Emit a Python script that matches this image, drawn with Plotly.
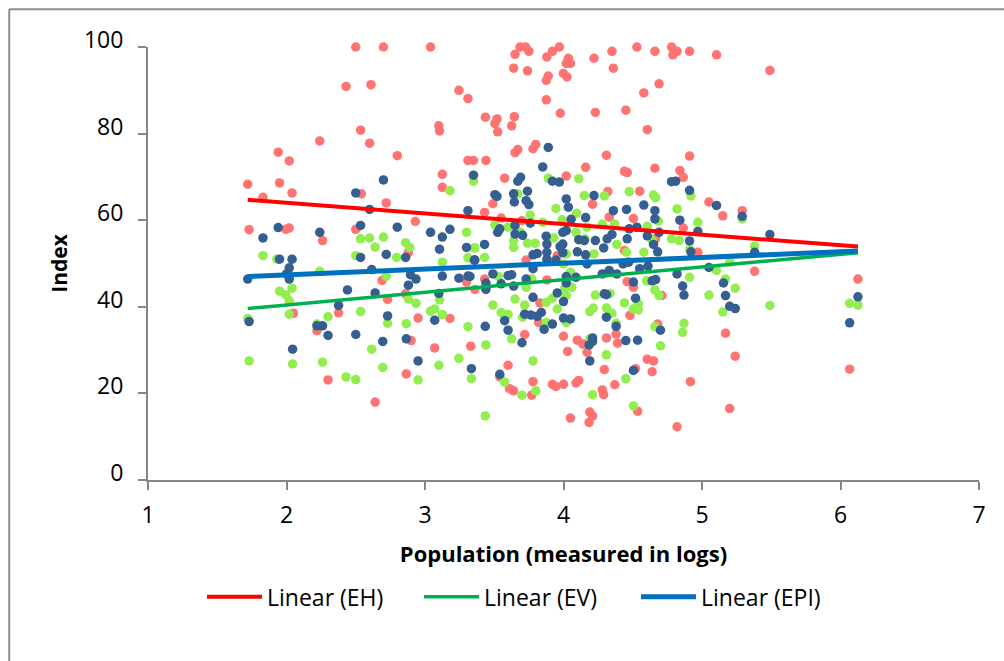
import plotly.graph_objects as go

eh_pts = [
(2.50,100),(2.70,100),(3.04,100),(2.43,90.9),(2.61,91.3),(3.245,90),(3.31,88.1),(2.535,80.8),(2.60,77.8),(2.24,78.3),
(1.94,75.7),(2.02,73.7),(2.80,74.9),(3.10,81.8),(3.105,80.6),(3.31,73.8),(3.35,73.8),(3.125,70.6),(3.125,67.6),(1.72,68.3),
(1.95,68.6),(1.83,65.3),(2.04,66.3),(2.54,66.1),(2.72,64),(2.93,59.7),(1.73,57.8),(1.995,57.9),(2.02,58.2),(2.26,55.3),
(2.50,57.9),(2.88,52.5),(3.686,100),(3.727,100),(3.65,98.3),(3.75,99),(3.92,99),(3.97,100),(3.88,97.7),(4.035,97.4),
(4.02,96.2),(4.05,96.2),(4.22,97.4),(4.35,99),(4.53,100),(4.66,99),(4.78,100),(4.82,99),(4.79,98.2),(4.91,99),
(5.105,98.2),(5.49,94.6),(3.64,95.1),(3.74,94.5),(3.89,93.3),(3.876,92.3),(3.999,93.9),(4.025,93.1),(4.36,95.1),(4.69,91.5),
(4.58,89.4),(3.876,87.8),(3.977,84.7),(4.23,84.9),(4.45,85.4),(4.605,80.9),(3.436,83.8),(3.52,83.4),(3.505,82.3),(3.645,83.9),
(3.626,81.8),(3.525,80.4),(3.67,76.3),(3.65,75.6),(3.80,77.5),(3.78,76.5),(3.44,73.8),(4.31,75),(4.91,74.8),(4.16,72.2),
(4.44,71.3),(4.46,71),(4.66,72),(4.84,71.5),(4.865,69.9),(3.575,69.7),(4.02,70.2),(4.32,66.6),(4.55,66.7),(4.21,63.7),
(3.49,63.8),(5.05,64.2),(5.15,61),(5.29,62.2),(3.43,61.8),(3.55,60.5),(3.70,59.9),(4.33,60.7),(4.505,60.4),(4.865,58.2),
(4.665,55.7),(4.97,52.6),(4.44,53),(3.73,50.8),(3.955,51.8),(2.69,46.1),(2.05,38.5),(2.376,38.6),(2.22,34.5),(2.86,43),
(2.73,41.7),(2.95,37.4),(3.18,37.3),(2.90,32.2),(3.07,30.5),(3.33,30.9),(2.865,24.5),(2.30,23.1),(2.64,18),(3.30,45.7),
(3.36,44),(3.43,46.4),(3.88,46.2),(3.83,40.9),(3.82,36.4),(3.72,33.6),(4.0,33.2),(4.10,32.3),(4.14,31.4),(4.03,29.7),
(4.17,29.5),(4.31,32.8),(4.38,33.7),(4.39,31.6),(4.46,45.8),(4.505,44.5),(4.48,38),(4.68,36),(4.71,42.6),(4.605,27.9),
(4.65,27.5),(4.64,25),(4.52,25.7),(4.295,25.5),(4.37,22),(3.60,26.5),(3.54,23.8),(3.78,22.7),(3.61,21.1),(3.64,20.6),
(3.77,19.6),(3.92,22.1),(3.945,21.6),(4.0,22.1),(4.09,22.4),(4.11,23),(4.28,20.8),(4.29,19.7),(4.916,22.7),(5.17,33.9),
(5.24,28.6),(5.20,16.5),(5.38,48.2),(6.126,46.4),(6.066,25.6),(4.82,12.3),(4.535,15.9),(4.19,15.7),(4.21,14.8),(4.185,13.3),
(4.05,14.3),
]
ev_pts = [
(3.18,66.8),(3.35,69),(2.535,55.7),(2.60,55.9),(2.70,56.1),(2.64,53.8),(1.83,51.8),(2.50,51.8),(2.86,54.8),(2.89,53.7),
(2.795,51.4),(3.30,57.2),(3.36,53.6),(3.31,51.3),(3.125,50.3),(1.93,51),(3.89,69.7),(4.11,69.6),(3.67,66.1),(4.15,65.7),
(4.295,65.6),(4.475,66.6),(4.65,65.8),(4.665,65.2),(4.92,65.6),(3.945,62.7),(4.82,62.6),(4.095,61.6),(3.76,61.2),(3.99,60.1),
(4.685,59.8),(4.97,59.5),(3.85,59.5),(3.505,58.9),(3.60,58.4),(4.17,58.4),(4.28,59.1),(4.37,59.1),(4.605,58.6),(5.29,60.3),
(5.38,54),(4.09,57.2),(3.69,57.2),(3.64,55.3),(3.64,53.7),(3.74,54.7),(3.795,54.7),(3.93,55.9),(4.155,55.7),(4.78,55.7),
(4.835,55.3),(4.64,55.3),(4.91,53.2),(4.385,54.4),(4.455,52.6),(4.22,52.2),(4.58,52.6),(3.356,53.6),(3.43,51.4),(4.02,52.2),
(2.24,48.2),(2.72,47.1),(1.95,43.6),(2.04,44.3),(1.995,42.8),(2.02,41.4),(2.02,38.3),(1.72,37.3),(2.30,37.7),(2.22,36),
(2.535,38.9),(2.73,36.2),(2.865,36.1),(2.88,41.8),(2.935,40.8),(3.105,41.6),(3.04,39),(3.07,39.5),(3.125,38.2),(3.31,35.4),
(2.615,30.2),(2.695,26),(2.26,27.2),(2.044,26.8),(1.73,27.5),(2.43,23.8),(2.50,23.2),(2.95,23.1),(3.10,26.5),(3.245,28.1),
(3.335,23.4),(3.44,31.2),(3.49,40.4),(3.55,38.7),(3.60,38.2),(3.65,41.8),(3.72,40.4),(3.705,37.6),(3.625,32.6),(3.53,47),
(3.78,27.5),(3.575,22.6),(3.70,19.6),(3.80,20.6),(3.435,14.8),(3.875,41),(3.92,42),(3.955,39.5),(4.01,44.4),(4.02,42.6),
(4.06,44.5),(3.73,44.5),(3.875,36.4),(4.02,36.4),(4.23,42.7),(4.335,43.1),(4.44,40.9),(4.19,38.9),(4.215,39.7),(4.31,39.7),
(4.35,38.5),(4.54,40.7),(4.505,39.5),(4.54,39.3),(4.38,36.2),(4.66,43.9),(4.69,42.6),(4.6,46),(4.66,35.4),(4.87,36.2),
(4.86,34.1),(4.70,31),(4.31,28.9),(4.19,32.6),(4.45,23.4),(4.21,19.7),(4.505,17.1),(5.05,42.7),(5.15,38.8),(5.24,44.3),
(5.17,46.4),(5.49,40.3),(4.91,46.8),(5.105,48.4),(5.20,50.3),(6.066,40.8),(6.126,40.4),(4.0,49.9),(4.47,50.3),(3.77,46.4),
(4.05,48),
]
epi_pts = [
(2.70,69.3),(2.50,66.3),(3.35,70.4),(2.60,62.5),(3.31,62.2),(1.94,58.3),(1.83,55.9),(2.24,57.2),(2.535,58.8),(2.80,58.4),
(3.04,57.2),(3.125,56.1),(3.18,57.9),(3.105,53.3),(3.30,53.7),(2.72,52.1),(2.535,51.4),(2.86,51.4),(1.95,51),(2.04,51),
(3.36,50.8),(2.02,49),(2.0,47.6),(2.02,46.4),(1.72,46.4),(2.615,48.6),(2.895,47.4),(2.935,46.4),(3.125,47.1),(3.245,46.6),
(3.31,47.1),(2.88,45),(2.44,43.9),(2.64,43.2),(3.10,43.1),(2.376,40.3),(2.73,37.9),(3.07,36.9),(1.73,36.6),(2.22,35.6),
(2.26,35.6),(2.30,33.4),(2.50,33.6),(2.695,32),(2.865,32.6),(2.044,30.2),(2.95,27.5),(3.335,25.7),(3.89,76.8),(3.85,72.3),
(3.69,69.9),(3.67,69),(3.92,69),(3.97,68.8),(3.505,65.9),(3.52,65.5),(3.64,66.1),(3.645,64.2),(3.74,66.7),(3.73,64.5),
(3.75,63.6),(4.22,65.7),(4.02,64.9),(4.035,63),(4.36,62.2),(4.455,62.5),(4.58,63.5),(4.66,62.2),(4.66,60.3),(4.78,68.9),
(4.81,69),(4.91,66.9),(5.105,63.4),(5.29,60.9),(5.49,56.7),(4.16,60.6),(4.055,60.2),(4.84,60),(3.65,58.8),(3.76,59.3),
(3.54,58),(3.525,57.2),(3.65,56.8),(3.705,56.5),(3.43,54.4),(3.875,56.3),(3.88,54.5),(4.02,57.6),(3.995,57.2),(3.995,54.5),
(3.975,53.9),(4.11,55.5),(4.15,55.3),(4.23,55.3),(4.35,56.7),(4.315,55.7),(4.46,55.7),(4.475,58),(4.53,58.4),(4.605,56.4),
(4.69,57.2),(4.97,57.4),(4.91,55.2),(4.65,54.4),(4.68,52.7),(4.92,52.7),(4.29,53.6),(4.10,52.7),(4.16,52),(3.81,52.3),
(3.78,52),(3.88,52.6),(3.995,52.5),(5.38,52.6),(3.356,50.8),(3.945,50.8),(3.88,51),(3.78,48.8),(4.17,49.9),(4.43,49.9),
(4.47,50.3),(4.55,48.8),(4.61,49.4),(4.82,47.6),(5.05,49.1),(3.325,47),(3.49,47.6),(3.44,45.5),(3.44,44),(3.55,45.3),
(3.60,47.2),(3.626,47.4),(3.64,44.8),(3.73,46.4),(4.02,47),(4.02,45.5),(4.09,46.8),(4.28,47.6),(4.33,48.4),(4.385,47.6),
(4.505,45.7),(4.64,46),(4.665,46.3),(4.86,44.8),(4.87,42.7),(5.155,45.5),(5.17,42.6),(5.2,40.1),(5.24,39.6),(3.955,43.2),
(4.0,41.2),(3.78,42.2),(4.295,43),(4.31,42.8),(4.52,42),(3.72,38.3),(3.765,38.1),(3.84,38.7),(3.81,37.8),(3.575,36.8),
(3.435,35.5),(3.60,34.6),(3.86,34.8),(3.92,36),(4.0,37.4),(4.05,37.2),(4.31,37.6),(4.38,35.5),(4.70,34.6),(3.70,31.7),
(4.21,32.8),(4.21,32),(4.185,31.2),(4.45,32.2),(4.535,32.3),(4.19,27.5),(4.505,25.3),(3.54,24.4),(6.126,42.3),(6.066,36.3),
]

trend_x = [1.72, 6.126]
eh_trend = [64.7, 53.9]
ev_trend = [39.6, 52.5]
epi_trend = [47.0, 52.9]

x_ticks = [1, 2, 3, 4, 5, 6, 7]
y_ticks = [0, 20, 40, 60, 80, 100]

FONT = "Open Sans"
AXIS = "#868686"

fig = go.Figure()
for name, pts, col in [("EH", eh_pts, "#FF7373"), ("EV", ev_pts, "#92EE4E"), ("EPI", epi_pts, "#355E91")]:
    fig.add_trace(go.Scatter(x=[p[0] for p in pts], y=[p[1] for p in pts], mode="markers", name=name,
                             showlegend=False, cliponaxis=False,
                             marker=dict(size=9.5, color=col, line=dict(width=0))))
for name, vals, col, w in [("Linear (EH)", eh_trend, "#FF0000", 4), ("Linear (EV)", ev_trend, "#00B050", 3.5),
                           ("Linear (EPI)", epi_trend, "#0070C0", 5)]:
    fig.add_trace(go.Scatter(x=trend_x, y=vals, mode="lines", name=name, line=dict(color=col, width=w)))

fig.update_layout(
    width=1004, height=661, margin=dict(l=148, r=25, t=47, b=181),
    paper_bgcolor="white", plot_bgcolor="white",
    font=dict(family=FONT, color="black", size=20),
    xaxis=dict(range=[1, 7], tickvals=x_ticks, showgrid=False, zeroline=False, showline=True, linecolor=AXIS, linewidth=2,
               ticks="outside", ticklen=8, tickcolor=AXIS, tickwidth=2, tickfont=dict(size=23), ticklabelstandoff=5,
               title=dict(text="<b>Population (measured in logs)</b>", font=dict(size=22), standoff=18)),
    yaxis=dict(range=[0, 100], tickvals=y_ticks, showgrid=False, zeroline=False, showline=True, linecolor=AXIS, linewidth=2,
               ticks="outside", ticklen=8, tickcolor=AXIS, tickwidth=2, tickfont=dict(size=23), ticklabelstandoff=10,
               ticklabelshift=-7,
               title=dict(text="<b>Index</b>", font=dict(size=21), standoff=11)),
    legend=dict(orientation="h", x=0.065, y=-0.22, xanchor="left", yanchor="top", itemwidth=55,
                entrywidth=147, entrywidthmode="pixels",
                font=dict(size=23), bgcolor="rgba(0,0,0,0)", itemclick=False),
    shapes=[dict(type="line", xref="paper", yref="paper", x0=-0.167, x1=-0.167, y0=-0.42, y1=1.087,
                 line=dict(color="#8C8C8C", width=2)),
            dict(type="line", xref="paper", yref="paper", x0=-0.167, x1=1.03, y0=1.087, y1=1.087,
                 line=dict(color="#8C8C8C", width=2))],
)
fig.write_html("out.html", post_script="document.body.style.margin='0';", config=dict(displayModeBar=False))
